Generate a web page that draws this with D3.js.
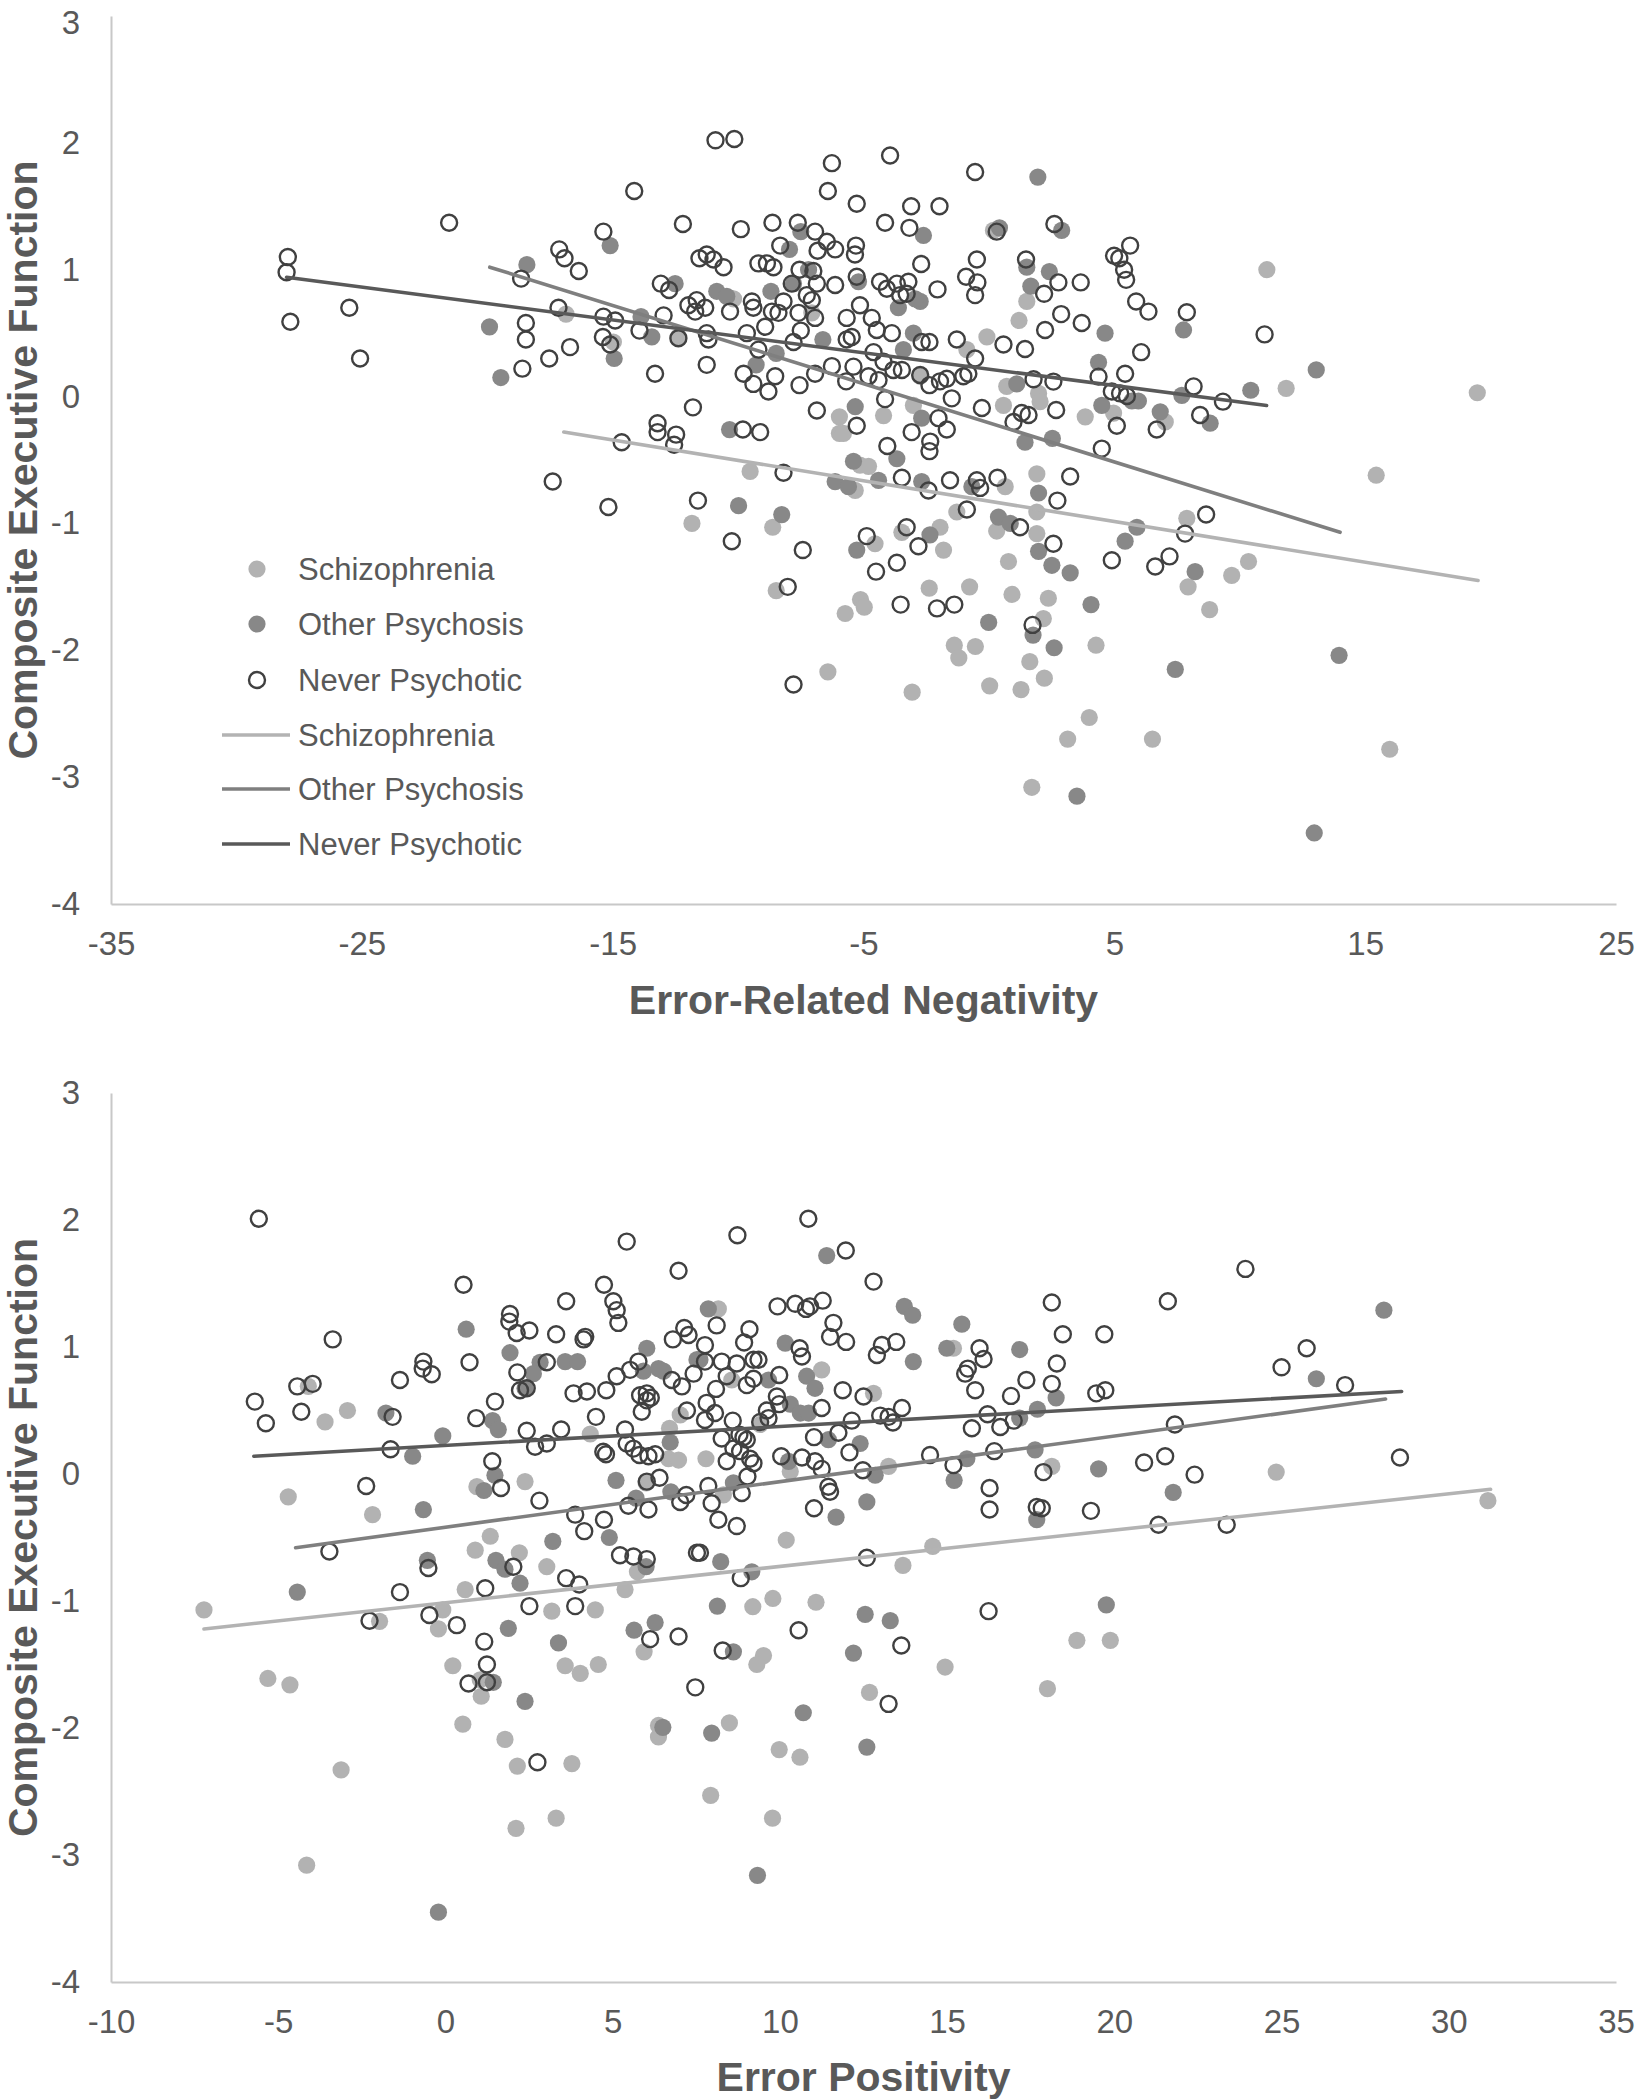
<!DOCTYPE html>
<html><head><meta charset="utf-8">
<script src="https://cdn.jsdelivr.net/npm/d3@7"></script>
<style>body{margin:0;background:#fff;} svg{display:block;}</style>
</head><body>
<svg id="chart" width="1636" height="2100"></svg>
<script>
const seriesNames = ["Schizophrenia", "Other Psychosis", "Never Psychotic"];
const yTicks = [-4, -3, -2, -1, 0, 1, 2, 3];
const ernXTicks = [-35, -25, -15, -5, 5, 15, 25];
const peXTicks = [-10, -5, 0, 5, 10, 15, 20, 25, 30, 35];
const yTitle = "Composite Executive Function";
const ernTitle = "Error-Related Negativity";
const peTitle = "Error Positivity";

// ---- Error-Related Negativity panel ----
const ernSchizophrenia = [[-16.86,0.65],[-14.97,0.43],[-12.38,0.47],[-10.18,0.77],[-7.06,0.66],[-5.96,-0.16],[-5.96,-0.29],[-9.52,-0.59],[-11.84,-1.0],[-8.62,-1.03],
[11.08,1.0],[11.85,0.065],[0.18,1.31],[1.51,0.75],[1.2,0.6],[-0.08,0.47],[-0.88,0.37],[0.71,0.08],[0.58,-0.07],[1.98,0.025],[2.04,-0.04],[-3.01,-0.07],[-4.2,-0.15],[-5.8,-0.29],[3.84,-0.16],[4.97,-0.13],[7.03,-0.2],[-2.74,0.16],[1.91,-0.61],[-5.14,-0.54],[-4.8,-0.55],[0.65,-0.71],[1.91,-0.91],[-1.28,-0.91],[0.31,-1.06],[1.91,-1.08],[-1.95,-1.03],[-4.54,-1.16],[-3.47,-1.07],[-1.81,-1.21],[0.78,-1.3],[7.89,-0.96],[10.35,-1.3],[9.68,-1.41],[-5.33,-0.74],
[0.92,-1.56],[2.37,-1.59],[2.17,-1.75],[1.63,-2.09],[2.21,-2.22],[0.03,-2.28],[1.28,-2.31],[4.27,-1.96],[4.0,-2.53],[3.14,-2.7],[6.52,-2.7],[1.71,-3.08],[15.98,-2.78],[7.94,-1.5],[8.8,-1.68],
[-8.48,-1.53],[-5.73,-1.71],[-5.12,-1.6],[-4.97,-1.66],[-2.38,-1.51],[-0.77,-1.5],[-1.38,-1.96],[-1.2,-2.06],[-0.54,-1.97],[-6.42,-2.17],[-3.06,-2.33],
[19.47,0.03],[15.44,-0.62]];

const ernOtherPsychosis = [[-15.1,1.19],[-18.42,1.04],[-19.91,0.55],[-19.46,0.15],[-14.94,0.3],[-13.44,0.47],[-12.51,0.89],[-10.85,0.83],[-10.45,0.79],[-8.69,0.83],[-7.95,1.16],[-7.5,1.3],[-7.19,1.0],[-7.79,0.89],[-9.28,0.25],[-8.48,0.34],[-6.62,0.45],[-10.34,-0.26],[-9.98,-0.86],[-8.26,-0.93],[-6.13,-0.67],[-13.87,0.63],
[1.95,1.73],[-2.61,1.27],[0.42,1.33],[2.9,1.31],[1.51,1.02],[2.41,0.985],[1.67,0.87],[-5.2,0.905],[-2.74,0.75],[-2.94,0.77],[-3.61,0.7],[4.63,0.5],[7.76,0.525],[4.37,0.27],[-3.01,0.5],[-3.41,0.37],[10.44,0.05],[6.83,-0.12],[8.82,-0.21],[7.69,0.01],[5.96,-0.035],[5.7,-0.035],[4.5,-0.07],[1.11,0.1],[-2.68,-0.17],[-5.33,-0.08],[1.44,-0.36],[2.53,-0.33],[-3.67,-0.49],[-5.4,-0.51],[-4.4,-0.66],[-2.68,-0.67],[-0.68,-0.71],[1.98,-0.76],[0.38,-0.95],[0.85,-1.0],[-2.35,-1.09],[-5.27,-1.21],[1.98,-1.22],[2.51,-1.33],[5.9,-1.03],[5.43,-1.14],[8.22,-1.38],[3.24,-1.39],[-5.6,-0.71],
[-0.01,-1.78],[1.76,-1.88],[2.6,-1.98],[4.07,-1.64],[7.43,-2.15],[13.96,-2.04],[3.51,-3.15],[12.97,-3.44],[13.05,0.21]];

const ernNeverPsychotic = [[-10.9,2.02],[-10.15,2.03],[-6.26,1.84],[-6.42,1.62],[-14.14,1.62],[-21.52,1.37],[-15.37,1.3],[-12.2,1.36],[-9.89,1.32],[-8.63,1.37],[-7.62,1.37],[-6.93,1.3],[-8.32,1.19],[-6.46,1.22],[-6.83,1.15],[-6.13,1.16],[-17.13,1.16],[-16.92,1.09],[-16.35,0.99],[-18.65,0.93],[-11.54,1.09],[-11.25,1.12],[-10.98,1.08],[-10.58,1.02],[-9.19,1.05],[-8.85,1.05],[-8.59,1.02],[-13.08,0.89],[-12.75,0.84],[-7.55,1.0],[-7.0,0.99],[-7.86,0.89],[-6.86,0.89],[-6.13,0.88],[-17.16,0.7],[-15.37,0.63],[-14.9,0.6],[-12.97,0.64],[-11.98,0.72],[-11.65,0.76],[-11.31,0.7],[-11.71,0.67],[-10.32,0.67],[-9.45,0.75],[-9.39,0.7],[-8.65,0.67],[-8.39,0.66],[-8.19,0.75],[-7.59,0.66],[-7.26,0.8],[-7.06,0.76],[-6.93,0.62],[-8.92,0.55],[-7.5,0.52],[-18.46,0.58],[-18.46,0.45],[-16.7,0.39],[-17.53,0.3],[-18.6,0.22],[-15.39,0.47],[-15.1,0.41],[-13.93,0.52],[-12.38,0.46],[-11.25,0.5],[-11.18,0.45],[-9.65,0.5],[-9.19,0.37],[-7.79,0.43],[-13.31,0.18],[-11.25,0.25],[-9.78,0.18],[-9.39,0.1],[-8.79,0.04],[-8.52,0.16],[-7.55,0.09],[-6.93,0.18],[-6.26,0.24],[-6.86,-0.11],[-11.8,-0.085],[-13.21,-0.21],[-13.21,-0.28],[-12.47,-0.3],[-12.55,-0.38],[-9.81,-0.26],[-9.12,-0.28],[-14.64,-0.36],[-8.19,-0.6],[-17.39,-0.67],[-15.17,-0.87],[-11.6,-0.82],[-10.25,-1.14],[-7.42,-1.21],
[-27.95,1.1],[-28.0,0.98],[-27.85,0.59],[-25.5,0.7],[-25.07,0.3],
[-3.94,1.9],[-0.55,1.77],[-5.27,1.52],[-3.1,1.5],[-1.97,1.5],[-4.14,1.37],[-3.17,1.33],[0.31,1.3],[2.61,1.36],[-5.3,1.19],[-5.34,1.12],[-2.7,1.045],[-0.48,1.08],[1.48,1.08],[4.99,1.11],[5.2,1.09],[5.63,1.19],[5.39,1.0],[5.47,0.92],[-5.27,0.945],[-4.34,0.905],[-4.07,0.85],[-3.67,0.89],[-3.21,0.905],[-3.54,0.8],[-3.28,0.81],[-0.91,0.945],[-0.46,0.9],[-0.55,0.8],[-2.05,0.845],[2.77,0.9],[2.2,0.81],[3.66,0.9],[2.88,0.65],[2.24,0.525],[3.7,0.58],[5.87,0.75],[6.36,0.67],[7.89,0.665],[10.99,0.49],[-5.14,0.72],[-5.67,0.62],[-4.67,0.62],[-4.47,0.525],[-3.87,0.5],[-5.47,0.47],[-5.67,0.45],[-2.68,0.43],[-2.37,0.43],[-1.28,0.45],[0.58,0.41],[1.44,0.375],[6.07,0.35],[-5.4,0.236],[-4.8,0.16],[-4.4,0.13],[-5.69,0.12],[-4.6,0.35],[-4.2,0.275],[-3.81,0.21],[-3.47,0.21],[-2.74,0.17],[-2.37,0.09],[-1.95,0.12],[-1.68,0.14],[-1.02,0.16],[-0.82,0.18],[-0.55,0.3],[1.78,0.136],[2.57,0.118],[4.37,0.157],[5.43,0.18],[4.9,0.04],[5.23,0.025],[5.5,0.005],[8.16,0.08],[9.33,-0.04],[8.42,-0.145],[6.69,-0.26],[5.1,-0.23],[2.68,-0.106],[1.58,-0.145],[1.31,-0.13],[0.98,-0.2],[-0.28,-0.09],[-1.48,-0.014],[-5.27,-0.23],[-4.14,-0.02],[-3.08,-0.28],[-2.01,-0.17],[-1.68,-0.26],[-2.34,-0.355],[-2.37,-0.43],[-4.05,-0.39],[4.5,-0.41],[-3.47,-0.64],[-1.55,-0.66],[-0.48,-0.66],[-0.35,-0.72],[0.34,-0.64],[3.24,-0.63],[2.73,-0.82],[-0.88,-0.89],[-2.41,-0.74],[1.24,-1.03],[-3.28,-1.03],[-4.87,-1.1],[-2.81,-1.18],[2.57,-1.16],[8.66,-0.93],[7.82,-1.08],[7.2,-1.26],[6.63,-1.34],[4.9,-1.29],[-3.67,-1.31],[-4.5,-1.38],
[-8.02,-1.5],[-3.52,-1.64],[-2.07,-1.67],[-1.38,-1.64],[-7.79,-2.27],[1.74,-1.8]];

const ernTrendSchizophrenia = [[-16.95,-0.28],[19.5,-1.45]];
const ernTrendOtherPsychosis = [[-19.9,1.02],[14.0,-1.07]];
const ernTrendNeverPsychotic = [[-28.0,0.94],[11.07,-0.07]];

// ---- Error Positivity panel ----
const peSchizophrenia = [[-4.1,0.69],[-2.93,0.5],[-3.6,0.41],[-4.7,-0.18],[-2.18,-0.32],[2.38,-0.06],[0.94,-0.1],[1.34,-0.49],[0.89,-0.6],[2.21,-0.62],[3.03,-0.73],[0.59,-0.91],[5.37,-0.91],[5.74,-0.77],[4.33,0.315],[6.7,0.36],[6.67,0.12],[6.97,0.11],[7.02,0.465],[6.0,-0.07],
[-1.97,-1.16],[-0.08,-1.07],[-0.21,-1.22],[3.18,-1.08],[4.48,-1.07],[-4.65,-1.66],[0.22,-1.51],[1.04,-1.62],[1.07,-1.75],[3.58,-1.51],[4.03,-1.57],[4.57,-1.5],[5.94,-1.4],[0.52,-1.97],[1.78,-2.09],[2.15,-2.3],[3.78,-2.28],[-3.12,-2.33],[2.11,-2.79],[3.31,-2.71],[-4.15,-3.08],[6.37,-1.98],[6.37,-2.07],
[-7.22,-1.07],[-5.31,-1.61],
[8.16,1.3],[11.25,0.82],[12.8,0.635],[8.56,0.74],[9.41,0.39],[13.25,0.06],[18.13,0.06],[10.31,0.02],[7.79,0.12],[8.31,-0.165],[15.19,0.99],[10.19,-0.52],[14.57,-0.57],[13.68,-0.72],
[9.19,-1.045],[11.08,-1.01],[9.79,-0.98],[9.51,-1.43],[9.31,-1.5],[14.94,-1.52],[18.88,-1.31],[19.88,-1.31],[18.0,-1.69],[12.68,-1.72],[8.49,-1.96],[9.98,-2.17],[10.6,-2.23],[7.93,-2.53],[9.78,-2.71],
[31.17,-0.21],[24.84,0.015]];

const peOtherPsychosis = [[0.62,1.14],[1.93,0.955],[6.02,0.99],[3.58,0.885],[3.95,0.885],[2.83,0.88],[2.63,0.79],[2.38,0.675],[5.92,0.81],[6.37,0.83],[6.52,0.81],[7.52,0.9],[-1.78,0.48],[-0.08,0.3],[-0.98,0.14],[1.41,0.42],[1.58,0.35],[6.72,0.25],[5.1,-0.05],[1.48,-0.01],[1.15,-0.13],[6.74,-0.14],[5.7,-0.19],[-0.66,-0.28],[4.9,-0.5],[3.21,-0.53],[-0.54,-0.68],[1.51,-0.68],[1.78,-0.75],[2.23,-0.86],[6.0,-0.73],[-4.43,-0.93],
[1.88,-1.215],[3.38,-1.33],[5.64,-1.23],[6.27,-1.17],[1.43,-1.64],[2.38,-1.79],[6.5,-1.995],[-0.21,-3.45],
[11.4,1.72],[13.72,1.32],[13.97,1.25],[15.44,1.18],[7.86,1.3],[10.16,1.03],[14.99,0.99],[17.17,0.98],[13.99,0.885],[7.61,0.9],[10.8,0.77],[11.05,0.675],[9.66,0.74],[10.31,0.55],[10.61,0.48],[10.86,0.48],[18.26,0.6],[17.7,0.51],[17.17,0.44],[11.45,0.27],[12.4,0.24],[15.59,0.12],[17.63,0.19],[19.53,0.04],[12.85,-0.01],[15.21,-0.05],[8.61,-0.07],[10.26,0.1],[12.6,-0.22],[11.68,-0.34],[17.68,-0.36],[8.23,-0.69],[9.16,-0.77],
[8.13,-1.04],[12.55,-1.105],[13.3,-1.155],[19.76,-1.03],[8.61,-1.4],[12.2,-1.41],[10.7,-1.88],[7.96,-2.04],[12.6,-2.15],[9.33,-3.16],
[28.06,1.29],[26.04,0.75],[21.76,-0.145]];

const peNeverPsychotic = [[5.42,1.83],[6.97,1.6],[0.54,1.49],[4.74,1.49],[3.61,1.36],[5.02,1.36],[5.12,1.29],[5.17,1.19],[1.93,1.26],[1.91,1.2],[2.13,1.11],[2.51,1.13],[3.31,1.1],[4.13,1.06],[4.18,1.08],[-3.37,1.06],[7.14,1.15],[7.27,1.095],[6.8,1.06],[0.72,0.88],[-0.66,0.885],[-0.68,0.83],[-0.41,0.785],[-1.36,0.74],[-4.43,0.69],[-3.97,0.71],[-4.31,0.49],[-1.58,0.45],[2.15,0.8],[3.03,0.88],[2.23,0.66],[2.43,0.675],[1.48,0.57],[0.92,0.44],[3.83,0.635],[4.23,0.65],[4.81,0.66],[5.12,0.77],[5.52,0.82],[5.77,0.885],[5.82,0.62],[6.02,0.635],[6.14,0.6],[5.87,0.49],[6.77,0.74],[7.07,0.69],[7.42,0.79],[7.22,0.5],[4.5,0.45],[2.43,0.34],[3.46,0.35],[5.37,0.35],[2.68,0.215],[3.03,0.24],[4.72,0.175],[4.8,0.155],[5.42,0.24],[5.62,0.2],[5.8,0.15],[6.07,0.14],[6.27,0.155],[-1.64,0.195],[1.4,0.1],[-2.37,-0.095],[1.66,-0.11],[2.81,-0.21],[6.02,-0.06],[6.4,-0.03],[7.2,-0.165],[7.02,-0.22],[5.47,-0.25],[6.07,-0.28],[3.88,-0.32],[4.74,-0.36],[4.15,-0.45],[-3.47,-0.61],[5.22,-0.64],[5.62,-0.65],[6.02,-0.67],[7.52,-0.62],[2.03,-0.73],[-0.51,-0.74],[3.61,-0.82],[4.0,-0.87],[1.19,-0.9],[-1.36,-0.93],[6.02,0.58],
[-5.58,2.01],[-5.7,0.57],[-5.37,0.4],
[-2.27,-1.155],[-0.48,-1.11],[0.34,-1.19],[1.16,-1.32],[1.24,-1.5],[0.69,-1.65],[1.24,-1.64],[2.51,-1.04],[3.88,-1.04],[6.12,-1.3],[6.97,-1.28],[7.47,-1.68],[2.75,-2.27],
[10.85,2.01],[8.73,1.88],[11.97,1.76],[12.8,1.515],[18.13,1.35],[9.93,1.32],[10.46,1.34],[10.78,1.3],[10.9,1.32],[11.28,1.365],[8.11,1.17],[9.09,1.14],[11.6,1.19],[11.5,1.08],[11.98,1.04],[7.76,1.015],[8.93,1.035],[10.59,0.99],[10.66,0.925],[13.05,1.016],[12.9,0.937],[13.48,1.04],[18.46,1.1],[19.7,1.1],[15.97,0.99],[16.09,0.905],[18.28,0.87],[7.76,0.885],[8.26,0.885],[8.71,0.87],[9.21,0.9],[9.36,0.9],[8.41,0.77],[9.01,0.7],[9.21,0.75],[9.98,0.78],[8.09,0.67],[15.62,0.83],[15.54,0.79],[15.84,0.66],[17.37,0.74],[16.91,0.615],[18.13,0.71],[19.46,0.635],[19.73,0.66],[11.88,0.66],[12.5,0.61],[11.25,0.52],[13.65,0.52],[13.0,0.46],[13.25,0.45],[13.38,0.405],[12.15,0.42],[9.61,0.5],[9.91,0.61],[9.98,0.55],[9.66,0.44],[9.41,0.41],[7.81,0.56],[8.06,0.48],[7.76,0.425],[8.59,0.42],[16.21,0.47],[16.59,0.37],[16.99,0.42],[15.74,0.36],[8.26,0.28],[8.79,0.31],[9.01,0.27],[8.91,0.29],[11.02,0.29],[11.75,0.325],[8.61,0.2],[8.81,0.18],[8.41,0.1],[9.11,0.12],[9.21,0.085],[10.04,0.14],[10.66,0.13],[11.05,0.1],[11.25,0.04],[12.08,0.17],[14.49,0.15],[15.19,0.07],[16.41,0.18],[12.48,0.03],[17.88,0.015],[9.03,-0.02],[7.86,-0.095],[8.86,-0.15],[11.45,-0.1],[11.5,-0.14],[16.27,-0.11],[7.96,-0.23],[11.02,-0.27],[16.27,-0.28],[17.68,-0.26],[17.83,-0.27],[19.3,-0.29],[8.16,-0.36],[8.71,-0.41],[7.61,-0.62],[12.6,-0.66],[8.83,-0.82],
[10.56,-1.23],[16.24,-1.08],[13.63,-1.35],[8.29,-1.39],[13.25,-1.81],
[23.92,1.615],[21.6,1.36],[25.75,0.99],[25.0,0.84],[26.9,0.7],[21.81,0.39],[20.89,0.09],[21.52,0.14],[22.4,-0.005],[28.54,0.13],[21.32,-0.4],[23.36,-0.4]];

const peTrendSchizophrenia = [[-7.22,-1.22],[31.25,-0.12]];
const peTrendOtherPsychosis = [[-4.48,-0.58],[28.11,0.59]];
const peTrendNeverPsychotic = [[-5.73,0.14],[28.59,0.65]];

// ---- styling ----
const FONT = "'Liberation Sans', Arial, Helvetica, sans-serif";
const TEXT = "#595959";
const FILL_SCHIZO = "#b2b2b2";
const FILL_OTHER = "#888888";
const STROKE_NEVER = "#404040";
const LINE_SCHIZO = "#b3b3b3";
const LINE_OTHER = "#7f7f7f";
const LINE_NEVER = "#595959";
const R_FILLED = 8.6;
const R_OPEN = 8.0;
const OPEN_W = 2.4;
const TREND_W = 3.6;

const svg = d3.select("#chart");

function drawPanel(p) {
  const x = d3.scaleLinear().domain(p.xDomain).range([p.left, p.right]);
  const y = d3.scaleLinear().domain([-4, 3]).range([p.bottom, p.top]);
  const g = svg.append("g");

  const ax = g.append("g").attr("transform", `translate(0,${p.bottom})`)
    .call(d3.axisBottom(x).tickValues(p.xTicks).tickFormat(d => String(d)).tickSize(0).tickPadding(28));
  const ay = g.append("g").attr("transform", `translate(${p.left},0)`)
    .call(d3.axisLeft(y).tickValues(yTicks).tickFormat(d => String(d)).tickSize(0).tickPadding(31));
  [ax, ay].forEach(a => {
    a.select(".domain").attr("stroke", "#c8c8c8").attr("stroke-width", 2);
    a.selectAll("text").attr("fill", TEXT).style("font-size", "33px").style("font-family", FONT);
  });
  // keep the top tick label inside the page
  if (p.top < 40) ay.selectAll(".tick text").filter(d => d === 3).attr("dy", "0.52em");

  // axis titles
  g.append("text").attr("x", (p.left + p.right) / 2).attr("y", p.xTitleY)
    .attr("text-anchor", "middle").style("font-family", FONT).style("font-size", "41px")
    .style("font-weight", "bold").attr("fill", TEXT).text(p.xTitle);
  g.append("text").attr("transform", `translate(37,${(p.top + p.bottom) / 2}) rotate(-90)`)
    .attr("text-anchor", "middle").style("font-family", FONT).style("font-size", "41px")
    .style("font-weight", "bold").attr("fill", TEXT).text(yTitle);

  // points
  g.append("g").selectAll("circle").data(p.schizo).join("circle")
    .attr("cx", d => x(d[0])).attr("cy", d => y(d[1])).attr("r", R_FILLED).attr("fill", FILL_SCHIZO);
  g.append("g").selectAll("circle").data(p.other).join("circle")
    .attr("cx", d => x(d[0])).attr("cy", d => y(d[1])).attr("r", R_FILLED).attr("fill", FILL_OTHER);
  g.append("g").selectAll("circle").data(p.never).join("circle")
    .attr("cx", d => x(d[0])).attr("cy", d => y(d[1])).attr("r", R_OPEN)
    .attr("fill", "none").attr("stroke", STROKE_NEVER).attr("stroke-width", OPEN_W);

  // trend lines
  const line = d3.line().x(d => x(d[0])).y(d => y(d[1]));
  [[p.tSchizo, LINE_SCHIZO], [p.tOther, LINE_OTHER], [p.tNever, LINE_NEVER]].forEach(([t, c]) => {
    g.append("path").datum(t).attr("d", line).attr("fill", "none").attr("stroke", c)
      .attr("stroke-width", TREND_W).attr("stroke-linecap", "round");
  });

  if (p.legend) {
    const lg = g.append("g");
    const rowY = [569, 624, 680, 735, 789, 844];
    const entries = [
      {name: seriesNames[0], kind: "dot", fill: FILL_SCHIZO},
      {name: seriesNames[1], kind: "dot", fill: FILL_OTHER},
      {name: seriesNames[2], kind: "open"},
      {name: seriesNames[0], kind: "line", stroke: LINE_SCHIZO},
      {name: seriesNames[1], kind: "line", stroke: LINE_OTHER},
      {name: seriesNames[2], kind: "line", stroke: LINE_NEVER}
    ];
    entries.forEach((e, i) => {
      const yy = rowY[i];
      if (e.kind === "dot") {
        lg.append("circle").attr("cx", 257).attr("cy", yy).attr("r", R_FILLED).attr("fill", e.fill);
      } else if (e.kind === "open") {
        lg.append("circle").attr("cx", 257).attr("cy", yy).attr("r", R_OPEN).attr("fill", "none")
          .attr("stroke", STROKE_NEVER).attr("stroke-width", OPEN_W);
      } else {
        lg.append("line").attr("x1", 222).attr("x2", 290).attr("y1", yy).attr("y2", yy)
          .attr("stroke", e.stroke).attr("stroke-width", TREND_W);
      }
      lg.append("text").attr("x", 298).attr("y", yy).attr("dy", "0.35em")
        .style("font-family", FONT).style("font-size", "31px").attr("fill", TEXT).text(e.name);
    });
  }
}

drawPanel({
  left: 111, right: 1616, top: 16, bottom: 904,
  xDomain: [-35, 25], xTicks: ernXTicks, xTitle: ernTitle, xTitleY: 1014,
  schizo: ernSchizophrenia, other: ernOtherPsychosis, never: ernNeverPsychotic,
  tSchizo: ernTrendSchizophrenia, tOther: ernTrendOtherPsychosis, tNever: ernTrendNeverPsychotic,
  legend: true
});
drawPanel({
  left: 111, right: 1616, top: 1093, bottom: 1982,
  xDomain: [-10, 35], xTicks: peXTicks, xTitle: peTitle, xTitleY: 2091,
  schizo: peSchizophrenia, other: peOtherPsychosis, never: peNeverPsychotic,
  tSchizo: peTrendSchizophrenia, tOther: peTrendOtherPsychosis, tNever: peTrendNeverPsychotic,
  legend: false
});
</script>
</body></html>
